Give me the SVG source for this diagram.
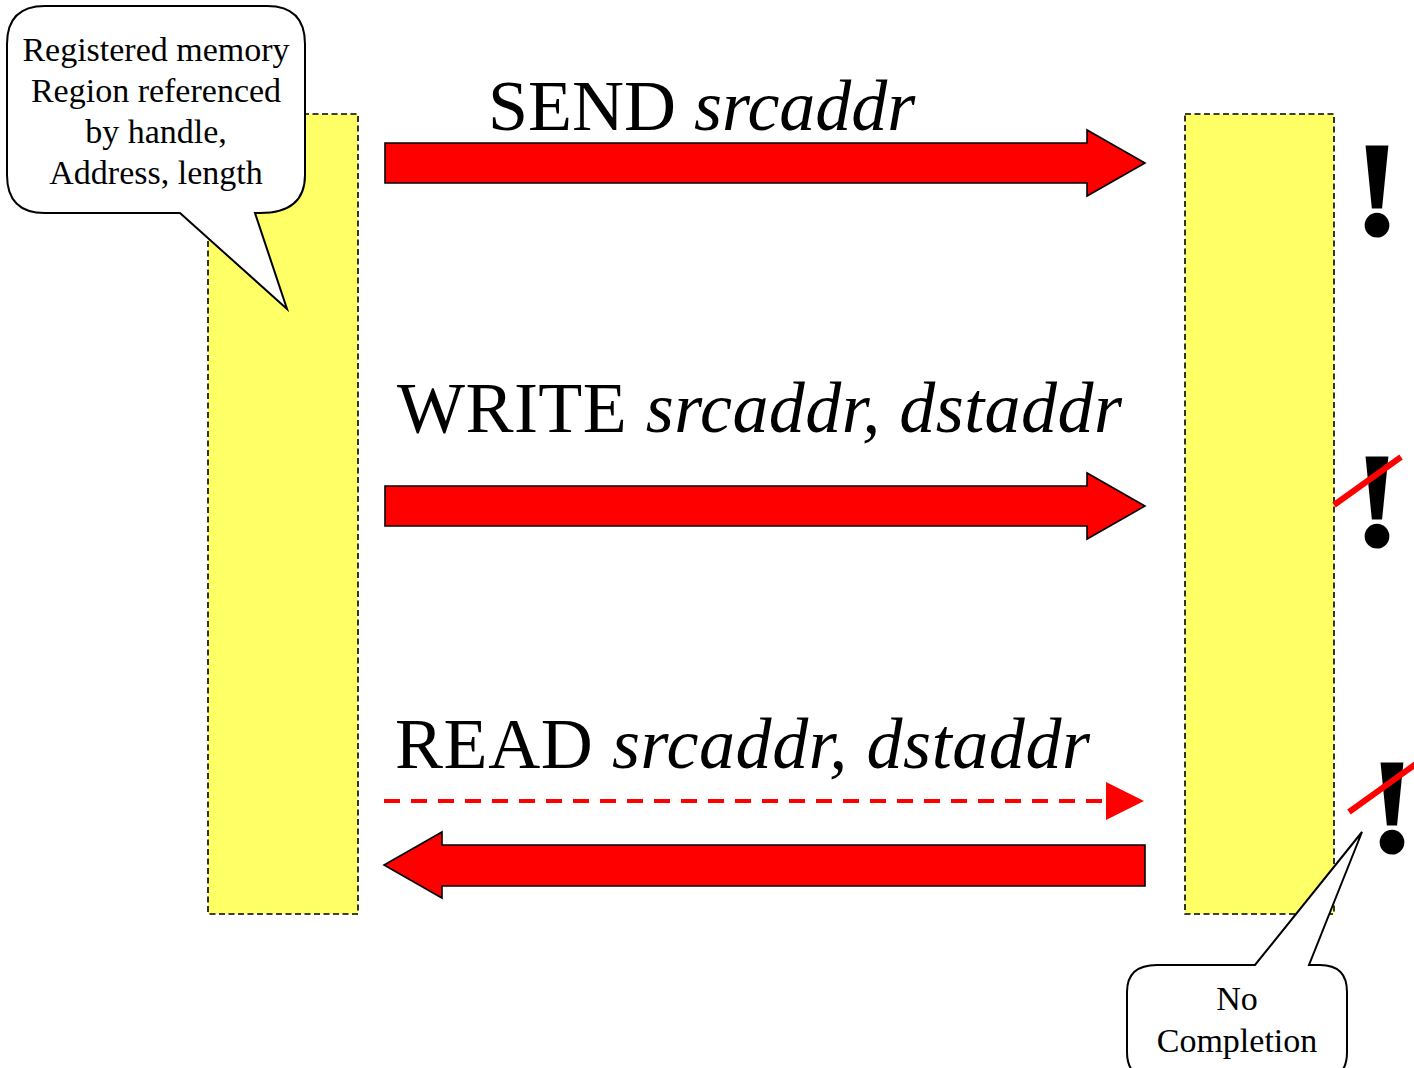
<svg xmlns="http://www.w3.org/2000/svg" width="1414" height="1068" viewBox="0 0 1414 1068">
  <style>
    .region { fill: #FFFF66; stroke: #000; stroke-width: 1.6; stroke-dasharray: 6 3.5; }
    .fat { fill: #FF0000; stroke: #000; stroke-width: 1.6; stroke-linejoin: miter; }
    .op { font-family: "Liberation Serif", "Times New Roman", serif; font-size: 72px; fill: #000; }
    .op .arg { font-style: italic; }
    .callout { fill: #FFF; stroke: #000; stroke-width: 2; stroke-linejoin: miter; }
    .note { font-family: "Liberation Serif", "Times New Roman", serif; font-size: 34px; fill: #000; text-anchor: middle; }
    .bang { font-family: "Liberation Serif", "Times New Roman", serif; font-weight: bold; font-size: 134px; fill: #000; stroke: #000; stroke-width: 3; text-anchor: middle; }
    .strike { stroke: #FF0000; stroke-width: 6; }
  </style>

  <!-- memory regions -->
  <g id="local-region">
    <rect class="region" x="208" y="114" width="150" height="800"/>
  </g>
  <g id="remote-region">
    <rect class="region" x="1185" y="114" width="149" height="800"/>
  </g>

  <!-- operation labels -->
  <g id="send-label">
    <text class="op" x="488" y="130">SEND <tspan class="arg">srcaddr</tspan></text>
  </g>
  <g id="write-label">
    <text class="op" x="397" y="432" textLength="725">WRITE <tspan class="arg">srcaddr, dstaddr</tspan></text>
  </g>
  <g id="read-label">
    <text class="op" x="395" y="768" textLength="695">READ <tspan class="arg">srcaddr, dstaddr</tspan></text>
  </g>

  <!-- transfers -->
  <g id="connectors">
    <path class="fat" d="M385,143 H1087 V130 L1145,163 L1087,196 V183 H385 Z"/>
    <path class="fat" d="M385,486 H1087 V473 L1145,506 L1087,539 V526 H385 Z"/>
    <line x1="384" y1="801" x2="1106" y2="801" stroke="#FF0000" stroke-width="4" stroke-dasharray="16 11"/>
    <polygon points="1106,782 1144,801 1106,820" fill="#FF0000"/>
    <path class="fat" d="M1145,845 H442 V832 L384,865 L442,898 V886 H1145 Z"/>
  </g>

  <!-- completion markers -->
  <g id="completion-send">
    <text class="bang" x="1377" y="234">!</text>
  </g>
  <g id="completion-write">
    <text class="bang" x="1377" y="545">!</text>
    <line class="strike" x1="1334" y1="505" x2="1401" y2="457"/>
  </g>
  <g id="completion-read">
    <text class="bang" x="1392" y="851">!</text>
    <line class="strike" x1="1349" y1="812" x2="1420" y2="761"/>
  </g>

  <!-- callouts -->
  <g id="region-callout">
    <path class="callout" d="M45,6 H267 Q305,6 305,44 V175 Q305,213 260,213 H255 L287,309 L180,213 H45 Q7,213 7,175 V44 Q7,6 45,6 Z"/>
    <text class="note" x="156" y="61">Registered memory</text>
    <text class="note" x="156" y="102">Region referenced</text>
    <text class="note" x="156" y="143">by handle,</text>
    <text class="note" x="156" y="184">Address, length</text>
  </g>
  <g id="no-completion-callout">
    <path class="callout" d="M1157,965 H1255 L1362,832 L1309,965 H1320 Q1347,965 1347,992 V1052 Q1347,1080 1320,1080 H1157 Q1127,1080 1127,1052 V992 Q1127,965 1157,965 Z"/>
    <text class="note" x="1237" y="1010">No</text>
    <text class="note" x="1237" y="1052">Completion</text>
  </g>
</svg>
